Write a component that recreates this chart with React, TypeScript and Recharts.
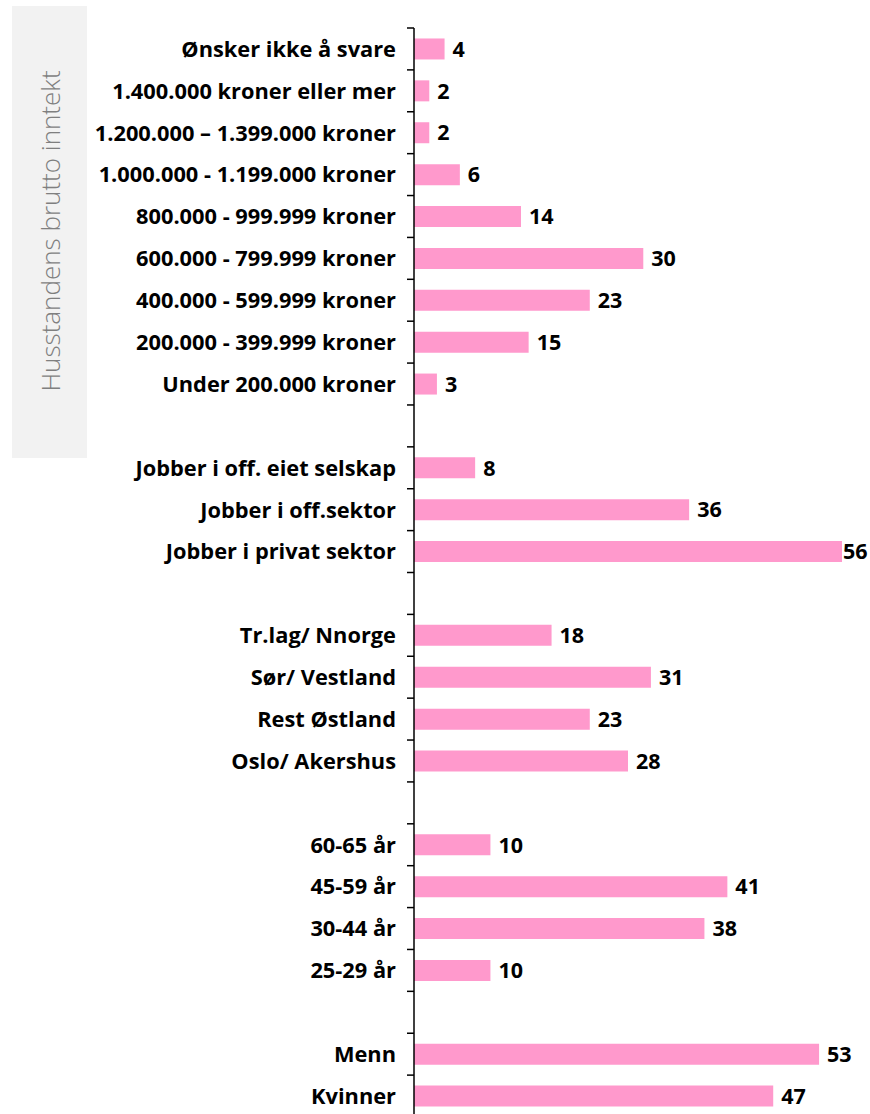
import React from "react";
import { BarChart, Bar, XAxis, YAxis, LabelList } from "recharts";

// top to bottom; empty strings are the spacer rows between groups
const categories = [
  "Ønsker ikke å svare",
  "1.400.000 kroner eller mer",
  "1.200.000 – 1.399.000 kroner",
  "1.000.000 - 1.199.000 kroner",
  "800.000 - 999.999 kroner",
  "600.000 - 799.999 kroner",
  "400.000 - 599.999 kroner",
  "200.000 - 399.999 kroner",
  "Under 200.000 kroner",
  "",
  "Jobber i off. eiet selskap",
  "Jobber i off.sektor",
  "Jobber i privat sektor",
  "",
  "Tr.lag/ Nnorge",
  "Sør/ Vestland",
  "Rest Østland",
  "Oslo/ Akershus",
  "",
  "60-65 år",
  "45-59 år",
  "30-44 år",
  "25-29 år",
  "",
  "Menn",
  "Kvinner",
];

const values: (number | null)[] = [
  4, 2, 2, 6, 14, 30, 23, 15, 3,
  null,
  8, 36, 56,
  null,
  18, 31, 23, 28,
  null,
  10, 41, 38, 10,
  null,
  53, 47,
];

const data = categories.map((c, i) => ({ id: `r${i}`, text: c, pct: values[i] }));

const FONT = "'Open Sans', Lato, sans-serif";
const AXIS_X = 414;
const CHART_W = 870;
const CHART_H = 1120;
const TOP = 28;
const BOTTOM = 3;
const BAND = (CHART_H - TOP - BOTTOM) / data.length;

const CatTick = (props: any) => {
  const { y, index } = props;
  const row = data[index];
  const top = y - BAND / 2;
  return (
    <g>
      <line x1={AXIS_X - 7} x2={AXIS_X} y1={top} y2={top} stroke="#000" strokeWidth={1.5} />
      {index === data.length - 1 && (
        <line x1={AXIS_X - 7} x2={AXIS_X} y1={top + BAND} y2={top + BAND} stroke="#000" strokeWidth={1.5} />
      )}
      <text
        x={AXIS_X - 18}
        y={y}
        dy="0.36em"
        textAnchor="end"
        fontFamily={FONT}
        fontWeight={700}
        fontSize={21.8}
        fill="#000"
      >
        {row ? row.text : ""}
      </text>
    </g>
  );
};

const ValueLabel = (props: any) => {
  const { x, y, width, height, value } = props;
  if (value == null) return null;
  // keep the label inside the picture (Excel pulls the longest one in)
  const lx = Math.min(Number(x) + Number(width) + 8, CHART_W - 27);
  return (
    <text
      x={lx}
      y={Number(y) + Number(height) / 2}
      dy="0.36em"
      fontFamily={FONT}
      fontWeight={700}
      fontSize={21.5}
      fill="#000"
    >
      {value}
    </text>
  );
};

export default function App() {
  return (
    <div style={{ position: "absolute", left: 0, top: 0, width: CHART_W, height: CHART_H, background: "#fff" }}>
      <div
        style={{
          position: "absolute",
          left: 12,
          top: 6,
          width: 75,
          height: 452,
          background: "#f2f2f2",
        }}
      >
        <div
          style={{
            position: "absolute",
            left: 38,
            top: 225,
            transform: "translate(-50%, -50%) rotate(-90deg)",
            whiteSpace: "nowrap",
            fontFamily: FONT,
            fontWeight: 300,
            fontSize: 26,
            color: "#7f7f7f",
          }}
        >
          Husstandens brutto inntekt
        </div>
      </div>
      <div style={{ position: "absolute", left: 0, top: 0 }}>
        <BarChart
          width={CHART_W}
          height={CHART_H}
          data={data}
          layout="vertical"
          margin={{ top: TOP, right: 28, bottom: BOTTOM, left: 0 }}
          barCategoryGap="25%"
        >
          <XAxis type="number" domain={[0, 56]} allowDataOverflow hide />
          <YAxis
            type="category"
            dataKey="id"
            width={AXIS_X}
            axisLine={{ stroke: "#000", strokeWidth: 1.5 }}
            tickLine={false}
            tick={<CatTick />}
            interval={0}
          />
          <Bar dataKey="pct" fill="#ff99cc" isAnimationActive={false}>
            <LabelList dataKey="pct" content={<ValueLabel />} />
          </Bar>
        </BarChart>
      </div>
    </div>
  );
}
